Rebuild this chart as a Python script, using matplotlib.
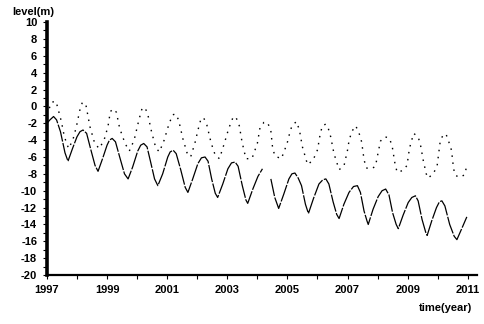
import numpy as np
import matplotlib
matplotlib.use("Agg")
import matplotlib.pyplot as plt
from matplotlib.ticker import MultipleLocator

# lower curve (long-dash line), NaN marks the break in the record
solid_t = [1997.00, 1997.10, 1997.22, 1997.32, 1997.45, 1997.60, 1997.70, 1997.85,
           1998.00, 1998.10, 1998.20, 1998.32, 1998.45, 1998.60, 1998.70, 1998.85,
           1999.00, 1999.08, 1999.17, 1999.28, 1999.42, 1999.58, 1999.70, 1999.85,
           2000.02, 2000.12, 2000.22, 2000.33, 2000.45, 2000.58, 2000.69, 2000.85,
           2001.02, 2001.10, 2001.20, 2001.30, 2001.45, 2001.60, 2001.69, 2001.85,
           2002.02, 2002.14, 2002.26, 2002.36, 2002.48, 2002.60, 2002.68, 2002.85,
           2003.02, 2003.14, 2003.26, 2003.36, 2003.50, 2003.62, 2003.68, 2003.85,
           2004.02, 2004.17, 2004.30,
           2004.45, 2004.58, 2004.71, 2004.88,
           2005.05, 2005.15, 2005.25, 2005.36, 2005.47, 2005.60, 2005.70, 2005.87,
           2006.05, 2006.18, 2006.28, 2006.38, 2006.52, 2006.64, 2006.72, 2006.88,
           2007.05, 2007.20, 2007.33, 2007.43, 2007.55, 2007.65, 2007.69, 2007.85,
           2008.02, 2008.15, 2008.27, 2008.38, 2008.50, 2008.62, 2008.69, 2008.85,
           2009.02, 2009.14, 2009.26, 2009.35, 2009.48, 2009.60, 2009.65, 2009.80,
           2009.96, 2010.06, 2010.14, 2010.24, 2010.40, 2010.55, 2010.64, 2010.80,
           2010.97]
solid_v = [-2.0, -1.6, -1.2, -1.6, -3.0, -5.5, -6.5, -5.0,
           -3.6, -3.0, -2.8, -3.2, -5.0, -7.0, -7.7, -6.2,
           -4.6, -4.0, -3.8, -4.2, -6.0, -8.0, -8.6, -7.2,
           -5.3, -4.6, -4.4, -4.8, -6.6, -8.6, -9.4, -8.0,
           -6.0, -5.4, -5.2, -5.6, -7.5, -9.6, -10.2, -8.6,
           -6.8, -6.1, -6.0, -6.5, -8.6, -10.3, -10.8, -9.2,
           -7.4, -6.7, -6.6, -7.1, -9.4, -11.1, -11.5, -9.8,
           -8.3, -7.4, np.nan,
           -8.6, -10.8, -12.1, -10.4,
           -8.6, -8.0, -7.9, -8.5, -9.4, -11.6, -12.7, -10.9,
           -9.2, -8.7, -8.6, -9.2, -11.3, -12.8, -13.3, -11.6,
           -10.2, -9.5, -9.4, -10.2, -12.4, -13.6, -14.0, -12.2,
           -10.7, -10.0, -9.8, -10.5, -12.6, -14.0, -14.5, -12.9,
           -11.4, -10.8, -10.6, -11.2, -13.4, -14.9, -15.3, -13.6,
           -12.0, -11.3, -11.2, -11.8, -14.0, -15.4, -15.8, -14.5,
           -13.1]

# upper curve (dotted line)
dot_t = [1997.00, 1997.08, 1997.16, 1997.30, 1997.37, 1997.48, 1997.58, 1997.72, 1997.86,
         1997.98, 1998.09, 1998.18, 1998.30, 1998.43, 1998.59, 1998.74, 1998.90,
         1999.03, 1999.11, 1999.22, 1999.31, 1999.42, 1999.60, 1999.74, 1999.90,
         2000.06, 2000.16, 2000.24, 2000.34, 2000.48, 2000.62, 2000.74, 2000.90,
         2001.05, 2001.18, 2001.28, 2001.38, 2001.52, 2001.66, 2001.78, 2001.92,
         2002.04, 2002.13, 2002.22, 2002.32, 2002.46, 2002.60, 2002.74, 2002.90,
         2003.05, 2003.18, 2003.28, 2003.40, 2003.49, 2003.62, 2003.82,
         2004.00, 2004.09, 2004.22, 2004.34, 2004.45, 2004.51, 2004.59, 2004.80,
         2004.99, 2005.06, 2005.15, 2005.30, 2005.40, 2005.50, 2005.67, 2005.85,
         2006.02, 2006.05, 2006.16, 2006.28, 2006.36, 2006.44, 2006.55, 2006.72, 2006.88,
         2007.00, 2007.05, 2007.14, 2007.27, 2007.37, 2007.47, 2007.55, 2007.62, 2007.80,
         2007.93, 2008.04, 2008.10, 2008.25, 2008.40, 2008.49, 2008.58, 2008.65, 2008.85,
         2008.98, 2009.06, 2009.13, 2009.20, 2009.35, 2009.43, 2009.52, 2009.62, 2009.68,
         2009.85, 2009.98, 2010.09, 2010.20, 2010.28, 2010.37, 2010.46, 2010.53, 2010.59,
         2010.75, 2010.90, 2010.97]
dot_v = [-1.0, -0.2, 0.5, 0.6, -0.3, -1.8, -3.6, -5.0, -4.0,
         -2.4, -0.5, 0.5, 0.1, -2.4, -4.4, -5.0, -4.0,
         -2.4, -0.6, -0.3, -0.7, -2.6, -4.4, -5.3, -4.0,
         -1.6, -0.3, -0.1, -0.7, -3.0, -4.9, -5.4, -4.0,
         -2.2, -1.0, -0.9, -1.6, -3.8, -5.5, -6.0, -4.4,
         -2.6, -1.4, -1.4, -2.2, -4.3, -5.8, -6.2, -4.4,
         -2.6, -1.4, -1.2, -2.3, -4.2, -6.2, -6.2,
         -4.4, -2.5, -1.9, -1.9, -2.9, -5.0, -5.9, -6.2,
         -4.4, -3.4, -2.3, -1.8, -2.8, -4.8, -6.9, -6.4,
         -5.0, -4.0, -2.3, -2.1, -2.6, -3.6, -5.6, -7.5, -7.1,
         -5.2, -4.1, -3.0, -2.3, -3.0, -4.2, -6.3, -7.3, -7.4,
         -7.1, -5.1, -4.1, -3.6, -3.8, -4.8, -6.8, -7.8, -7.6,
         -7.0, -5.0, -4.1, -3.2, -3.6, -4.6, -6.4, -8.0, -8.5,
         -8.0, -7.1, -4.0, -3.3, -3.3, -4.2, -5.2, -7.4, -8.2,
         -8.4, -8.1, -7.0]

year_ticks = list(range(1997, 2012, 2))
level_ticks = list(range(-20, 11, 2))

plt.rcParams["font.family"] = ["Liberation Sans", "DejaVu Sans"]

fig = plt.figure(figsize=(4.84, 3.24), dpi=100)
ax = fig.add_axes([0.097, 0.151, 0.888, 0.781])

ax.plot(solid_t, solid_v, color="black", linewidth=0.9, dashes=(14, 1.2))
ax.plot(dot_t, dot_v, color="black", linewidth=1.0, dashes=(1.1, 4.0))

ax.set_xlim(1997, 2011.3)
ax.set_ylim(-20, 10)

ax.spines["top"].set_visible(False)
ax.spines["right"].set_visible(False)
ax.spines["left"].set_linewidth(2.6)
ax.spines["bottom"].set_linewidth(1.6)

ax.set_xticks(year_ticks)
ax.set_xticklabels([str(y) for y in year_ticks])
ax.xaxis.set_minor_locator(MultipleLocator(1))
ax.set_yticks(level_ticks)
ax.set_yticklabels([str(v) for v in level_ticks])
ax.yaxis.set_minor_locator(MultipleLocator(1))

ax.tick_params(axis="both", which="major", direction="out", length=3, width=0.8,
               labelsize=8, pad=4)
ax.tick_params(axis="both", which="minor", direction="out", length=3, width=0.8)
for lab in ax.get_xticklabels() + ax.get_yticklabels():
    lab.set_fontweight("bold")

fig.text(0.025, 0.962, "level(m)", fontsize=8, fontweight="bold", va="center", ha="left")
fig.text(0.975, 0.05, "time(year)", fontsize=8, fontweight="bold", va="center", ha="right")

fig.savefig("out.png", dpi=100)
